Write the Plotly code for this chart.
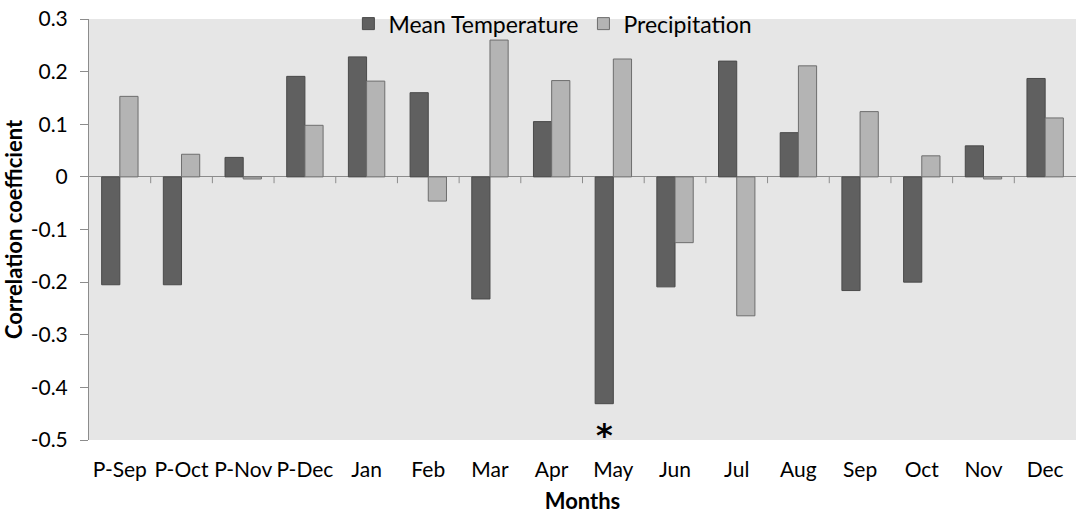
import plotly.graph_objects as go

months = ["P-Sep", "P-Oct", "P-Nov", "P-Dec", "Jan", "Feb", "Mar", "Apr",
          "May", "Jun", "Jul", "Aug", "Sep", "Oct", "Nov", "Dec"]
mean_temperature = [-0.205, -0.205, 0.037, 0.191, 0.228, 0.160, -0.232, 0.105,
                    -0.431, -0.209, 0.220, 0.084, -0.216, -0.200, 0.059, 0.187]
precipitation = [0.153, 0.043, -0.004, 0.098, 0.182, -0.046, 0.260, 0.183,
                 0.224, -0.125, -0.264, 0.211, 0.124, 0.040, -0.004, 0.112]
y_ticks = [0.3, 0.2, 0.1, 0, -0.1, -0.2, -0.3, -0.4, -0.5]
y_tick_text = ["0.3", "0.2", "0.1", "0", "-0.1", "-0.2", "-0.3", "-0.4", "-0.5"]
significant = ["May"]

FONT = "Lato"

fig = go.Figure()
fig.add_trace(go.Bar(x=months, y=mean_temperature, name="Mean Temperature",
                     marker=dict(color="#606060", line=dict(color="#4a4a4a", width=1))))
fig.add_trace(go.Bar(x=months, y=precipitation, name="Precipitation",
                     marker=dict(color="#b4b4b4", line=dict(color="#6e6e6e", width=1))))

# category boundary ticks on the zero line
for i in range(1, len(months)):
    fig.add_shape(type="line", xref="x", yref="y", x0=i - 0.5, x1=i - 0.5,
                  y0=0, y1=-0.012, line=dict(color="#8c8c8c", width=1))

for m in significant:
    fig.add_annotation(x=m, y=-0.482, text="<b>*</b>", showarrow=False,
                       xshift=-9, yshift=-4, yanchor="middle",
                       font=dict(size=32, color="black", family="DejaVu Sans"))

fig.update_layout(
    width=1076, height=514,
    margin=dict(l=89, r=0, t=19, b=74, autoexpand=False),
    paper_bgcolor="white", plot_bgcolor="#e6e6e6",
    font=dict(family=FONT, size=21, color="black"),
    barmode="group", bargap=0.41, bargroupgap=0,
    showlegend=True,
    legend=dict(orientation="h", x=0.47, xanchor="center", y=1.04, yanchor="top",
                bgcolor="rgba(0,0,0,0)", font=dict(size=23), itemwidth=30,
                tracegroupgap=0),
    xaxis=dict(showgrid=False, showline=False, ticks="", ticklabelstandoff=15,
               automargin=False,
               title=dict(text="<b>Months</b>", standoff=16, font=dict(size=22))),
    yaxis=dict(range=[-0.5, 0.3], tickvals=y_ticks, ticktext=y_tick_text,
               showgrid=False, showline=True, linecolor="#8c8c8c", linewidth=1,
               ticks="outside", ticklen=8, tickcolor="#8c8c8c",
               ticklabelstandoff=8, automargin=False,
               zeroline=True, zerolinecolor="#8c8c8c", zerolinewidth=1,
               title=dict(text="<b>Correlation coefficient</b>", standoff=6,
                          font=dict(size=22))),
)

fig.write_html("out.html", config={"displayModeBar": False},
               post_script="document.body.style.margin='0';")
